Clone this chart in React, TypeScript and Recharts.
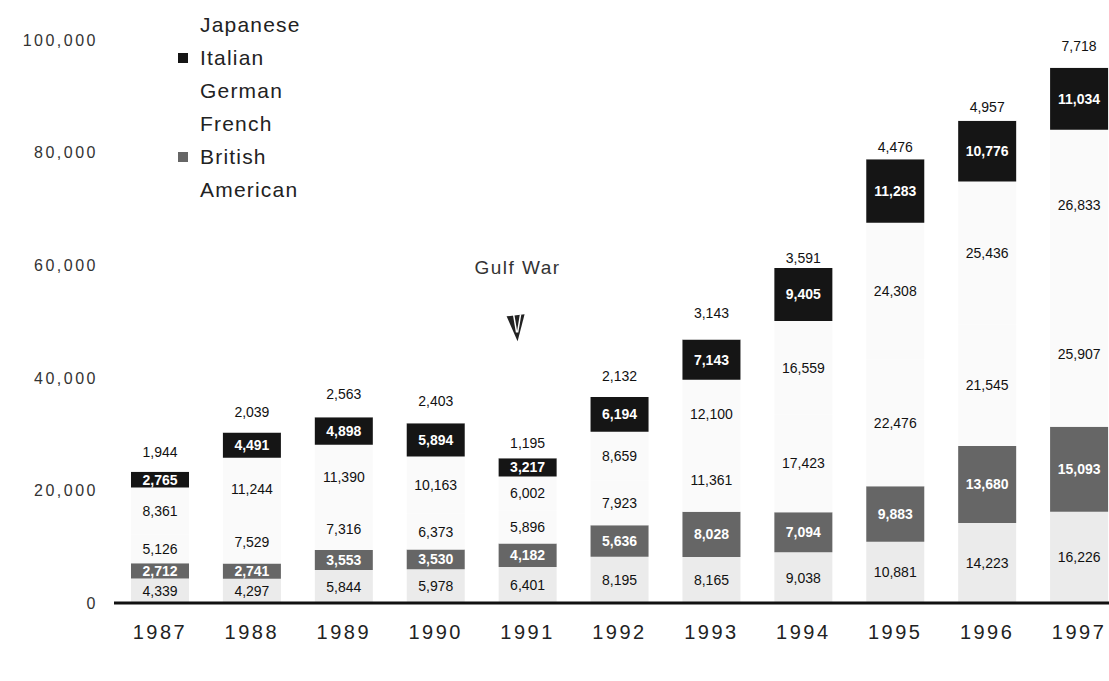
import { BarChart, Bar, XAxis, YAxis, Legend, LabelList, ReferenceDot } from "recharts";

const years = ["1987", "1988", "1989", "1990", "1991", "1992", "1993", "1994", "1995", "1996", "1997"];
const american = [4339, 4297, 5844, 5978, 6401, 8195, 8165, 9038, 10881, 14223, 16226];
const british = [2712, 2741, 3553, 3530, 4182, 5636, 8028, 7094, 9883, 13680, 15093];
const french = [5126, 7529, 7316, 6373, 5896, 7923, 11361, 17423, 22476, 21545, 25907];
const german = [8361, 11244, 11390, 10163, 6002, 8659, 12100, 16559, 24308, 25436, 26833];
const italian = [2765, 4491, 4898, 5894, 3217, 6194, 7143, 9405, 11283, 10776, 11034];
const japanese = [1944, 2039, 2563, 2403, 1195, 2132, 3143, 3591, 4476, 4957, 7718];
const yTicks = [0, 20000, 40000, 60000, 80000, 100000];

const data = years.map((year, i) => ({
  year,
  American: american[i],
  British: british[i],
  French: french[i],
  German: german[i],
  Italian: italian[i],
  Japanese: japanese[i],
}));

// bottom to top
const series = [
  { key: "American", fill: "#ebebeb", text: "#111", bold: false },
  { key: "British", fill: "#666666", text: "#fff", bold: true },
  { key: "French", fill: "#fafafa", text: "#111", bold: false },
  { key: "German", fill: "#fafafa", text: "#111", bold: false },
  { key: "Italian", fill: "#151515", text: "#fff", bold: true },
  { key: "Japanese", fill: "#ffffff", text: "#111", bold: false },
];

const font = "'Liberation Sans', Arial, sans-serif";
const fmt = (v: number) => v.toLocaleString("en-US");

const renderLegend = () => (
  <div style={{ fontFamily: font }}>
    {[...series].reverse().map((s) => (
      <div key={s.key} style={{ display: "flex", alignItems: "center", height: 33, fontSize: 21, letterSpacing: 1.2, color: "#222" }}>
        <span style={{ width: 10, height: 10, background: s.key === "Italian" || s.key === "British" ? s.fill : "#fff", marginRight: 12 }} />
        {s.key}
      </div>
    ))}
  </div>
);

// thin top segments get their number above the bar
const topLabel = (props: any) => {
  const { x, y, width, height, value } = props;
  const cy = height < 18 ? y - 9 : y + height / 2;
  return (
    <text x={x + width / 2} y={cy} dy={5} textAnchor="middle" fontSize={14} fill="#111" fontFamily={font}>
      {fmt(Number(value))}
    </text>
  );
};

const GulfWar = (props: any) => {
  const { cx, cy } = props;
  const x = cx - 12;
  return (
    <g>
      <text x={x + 2} y={cy - 54} textAnchor="middle" fontSize={19} letterSpacing={1.5} fill="#333" fontFamily={font}>
        Gulf War
      </text>
      <path d={`M${x - 9},${cy - 12} L${x + 9},${cy - 14} L${x + 2},${cy + 13} Z`} fill="#222" />
      <path d={`M${x - 2},${cy - 14} L${x + 1},${cy + 4} M${x + 5},${cy - 14} L${x + 2},${cy + 4}`} stroke="#fff" strokeWidth={1.5} />
    </g>
  );
};

export default function App() {
  return (
    <div style={{ position: "absolute", left: 0, top: 0, width: 1109, height: 681, overflow: "hidden", background: "#fff" }}>
      <BarChart width={1125} height={681} data={data} margin={{ top: 12, right: 0, left: 0, bottom: 38 }}>
        <XAxis
          dataKey="year"
          height={40}
          axisLine={{ stroke: "#111", strokeWidth: 3 }}
          tickLine={false}
          tickSize={0}
          tickMargin={22}
          tick={{ fontSize: 20, letterSpacing: 2.5, fill: "#222", fontFamily: font }}
        />
        <YAxis
          width={114}
          domain={[0, 105000]}
          ticks={yTicks}
          axisLine={false}
          tickLine={false}
          tickSize={0}
          tickMargin={16}
          tickFormatter={fmt}
          tick={{ fontSize: 16, letterSpacing: 2.5, fill: "#333", fontFamily: font }}
        />
        <Legend
          layout="vertical"
          align="center"
          verticalAlign="middle"
          content={renderLegend}
          wrapperStyle={{ top: 8, left: 178, width: 200 }}
        />
        {series.map((s) => (
          <Bar key={s.key} dataKey={s.key} stackId="a" fill={s.fill} barSize={58} isAnimationActive={false}>
            {s.key === "Japanese" ? (
              <LabelList dataKey={s.key} content={topLabel} />
            ) : (
              <LabelList
                dataKey={s.key}
                position="center"
                formatter={(v: any) => fmt(Number(v))}
                style={{ fontSize: 14, fill: s.text, fontWeight: s.bold ? "bold" : "normal", fontFamily: font }}
              />
            )}
          </Bar>
        ))}
        <ReferenceDot x="1991" y={48800} r={0} shape={GulfWar} />
      </BarChart>
    </div>
  );
}
